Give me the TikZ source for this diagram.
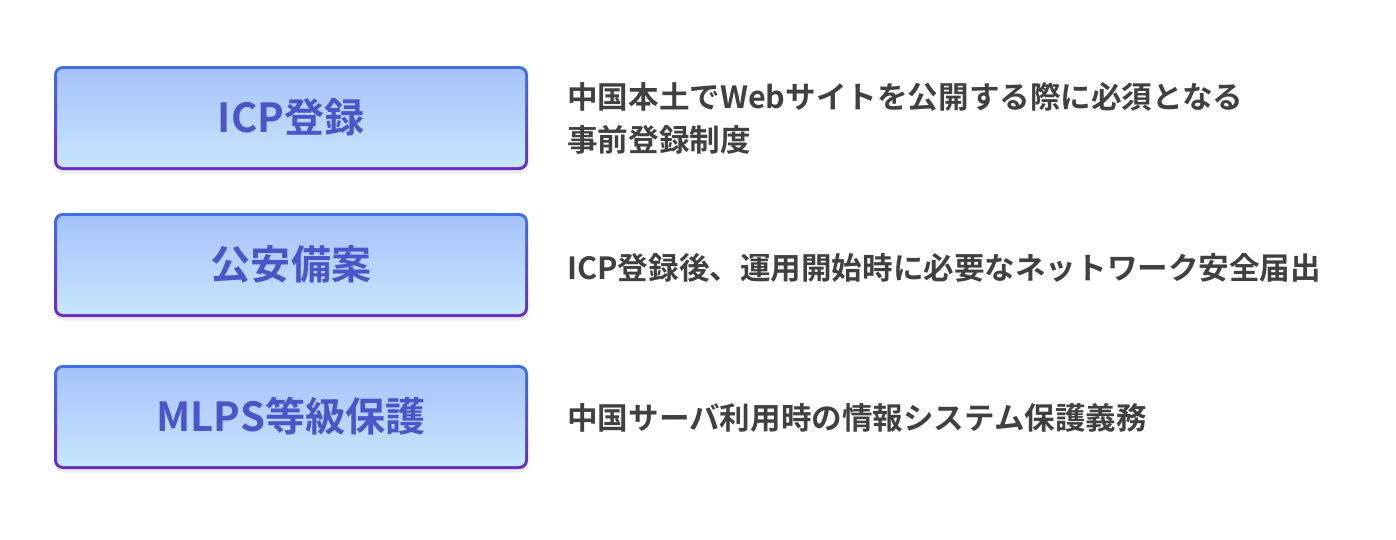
\documentclass[tikz,border=0pt]{standalone}
\usepackage{fontspec}
\setmainfont{Noto Sans CJK JP}[BoldFont={* Bold}]
\usetikzlibrary{shadows}
\definecolor{bordtop}{HTML}{3F6FE8}
\definecolor{bordbot}{HTML}{6A2AC0}
\definecolor{filltop}{HTML}{A6C2FA}
\definecolor{fillbot}{HTML}{C6E6FC}
\definecolor{boxtxt}{HTML}{4A55C8}
\definecolor{desc}{HTML}{404040}
\tikzset{
  x=0.02cm,y=-0.02cm,
  outerbox/.style={rounded corners=5pt,top color=bordtop,bottom color=bordbot,drop shadow={opacity=0.15,shadow xshift=0pt,shadow yshift=-2pt}},
  innerbox/.style={rounded corners=3.5pt,top color=filltop,bottom color=fillbot},
  boxlabel/.style={font=\fontsize{22.8}{26}\selectfont\bfseries,text=boxtxt},
  desctext/.style={font=\fontsize{17.4}{24.4}\selectfont\bfseries,text=desc,anchor=west,align=left,inner sep=0pt}
}
\begin{document}
\begin{tikzpicture}
\useasboundingbox (0,0) rectangle (1396,539);
\foreach \n/\t/\txt in {a/66/ICP登録,b/213/公安備案,c/365/MLPS等級保護}{
  \path[outerbox] (54,\t) rectangle (528,\t+104);
  \path[innerbox] (57,\t+3) rectangle (525,\t+101);
  \node[boxlabel] (\n) at (291,\t+51) {\txt};
}
\node[desctext] (da) at (567,118) {中国本土でWebサイトを公開する際に必須となる\\事前登録制度};
\node[desctext] (db) at (567,268) {ICP登録後、運用開始時に必要なネットワーク安全届出};
\node[desctext] (dc) at (567,418) {中国サーバ利用時の情報システム保護義務};
\end{tikzpicture}
\end{document}
